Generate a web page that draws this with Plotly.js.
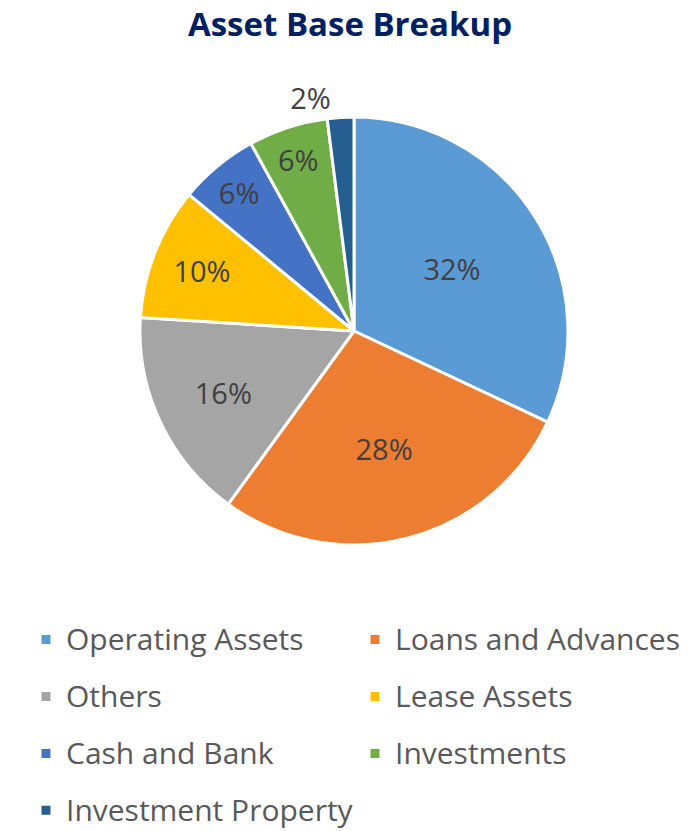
<!DOCTYPE html>
<html>
<head>
<meta charset="utf-8">
<script src="https://cdn.plot.ly/plotly-3.0.1.min.js"></script>
<style>html,body{margin:0;padding:0;background:#fff;}#chart{width:700px;height:831px;}</style>
</head>
<body>
<div id="chart"></div>
<script>
const categories = ["Operating Assets", "Loans and Advances", "Others", "Lease Assets", "Cash and Bank", "Investments", "Investment Property"];
const values = [32, 28, 16, 10, 6, 6, 2];
const colors = ["#5B9BD5", "#ED7D31", "#A5A5A5", "#FFC000", "#4472C4", "#70AD47", "#255E91"];
const textPositions = ["inside", "inside", "inside", "inside", "inside", "inside", "outside"];

const W = 700, H = 831;
const cx = 354, cy = 331, R = 214;

const legendLabels = categories.map(c => '<span style="font-size:30px;baseline-shift:6px">' + c + '</span>');

const trace = {
  type: 'pie',
  labels: legendLabels,
  values: values,
  sort: false,
  direction: 'clockwise',
  rotation: 0,
  marker: {colors: colors, line: {color: '#ffffff', width: 3}},
  texttemplate: '%{percent:.0%}',
  textposition: textPositions,
  insidetextorientation: 'horizontal',
  textfont: {family: 'Open Sans', size: 29, color: '#404040'},
  insidetextfont: {family: 'Open Sans', size: 29, color: '#404040'},
  outsidetextfont: {family: 'Open Sans', size: 29, color: '#404040'},
  hoverinfo: 'label+percent',
  domain: {
    x: [(cx - R) / W, (cx + R) / W],
    y: [(H - cy - R) / H, (H - cy + R) / H]
  }
};

const layout = {
  width: W,
  height: H,
  margin: {l: 0, r: 0, t: 0, b: 0, autoexpand: false},
  paper_bgcolor: '#ffffff',
  title: {
    text: '<b>Asset Base Breakup</b>',
    font: {family: 'Open Sans', size: 33, color: '#002060'},
    x: 0.5, xanchor: 'center',
    yref: 'container', y: 1 - 24 / H, yanchor: 'middle'
  },
  showlegend: true,
  legend: {
    orientation: 'h',
    x: 26 / W, xanchor: 'left',
    y: 1 - 606 / H, yanchor: 'top',
    font: {family: 'Open Sans', size: 41.5, color: '#595959'},
    entrywidth: 284,
    entrywidthmode: 'pixels',
    bgcolor: 'rgba(0,0,0,0)'
  }
};

Plotly.newPlot('chart', [trace], layout, {displayModeBar: false, staticPlot: true});
</script>
</body>
</html>
